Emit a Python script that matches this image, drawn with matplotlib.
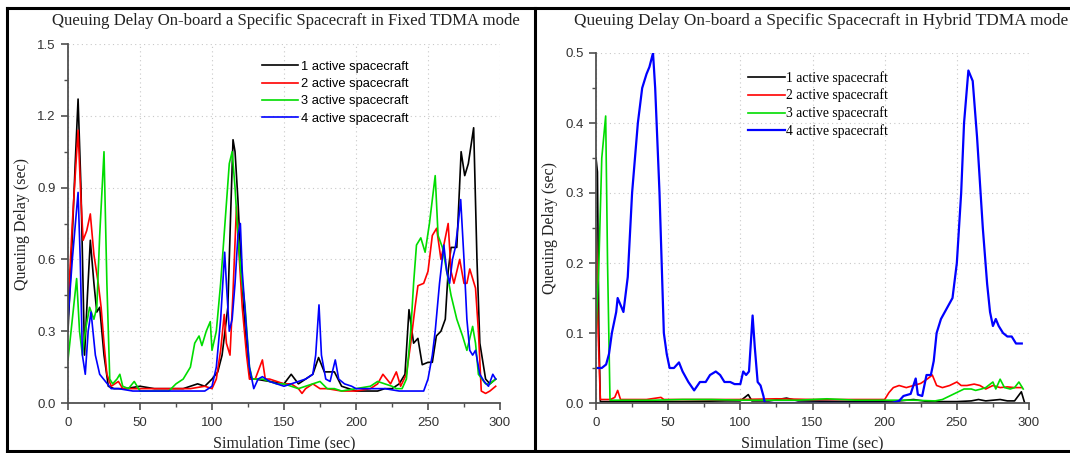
import matplotlib
matplotlib.use('Agg')
from matplotlib import pyplot as plt
from matplotlib.lines import Line2D
from matplotlib.ticker import MultipleLocator, FormatStrFormatter

# ---- Fixed TDMA mode (left) ----
fixed_t1 = [0, 3, 5, 7, 9, 11.5, 13.5, 15.5, 18, 20, 22, 25, 28, 32, 40, 50, 60, 70, 80, 90, 95, 100, 104, 107, 109,
            111, 113, 114.6, 116, 118, 120, 123, 126.6, 130, 140, 150, 155, 160, 165, 170, 174, 178, 182, 185, 190,
            200, 210, 215, 220, 225, 230, 234, 236.8, 240, 243, 246, 250, 253, 255.8, 259, 262, 264, 266, 268, 270,
            273, 275.5, 278, 281.7, 284, 286, 290, 293, 297]
fixed_v1 = [0.3, 0.7, 1.0, 1.27, 0.9, 0.2, 0.45, 0.68, 0.5, 0.38, 0.4, 0.2, 0.07, 0.06, 0.06, 0.07, 0.06, 0.06, 0.06,
            0.08, 0.07, 0.1, 0.13, 0.2, 0.3, 0.4, 0.8, 1.1, 1.05, 0.85, 0.6, 0.3, 0.1, 0.1, 0.09, 0.08, 0.12, 0.08,
            0.1, 0.12, 0.19, 0.13, 0.13, 0.13, 0.07, 0.05, 0.05, 0.05, 0.06, 0.06, 0.08, 0.12, 0.39, 0.25, 0.27,
            0.16, 0.17, 0.17, 0.28, 0.3, 0.35, 0.55, 0.65, 0.65, 0.65, 1.05, 0.95, 1.0, 1.15, 0.6, 0.25, 0.1, 0.08,
            0.1]

fixed_t2 = [0, 3, 5, 7, 9, 10.5, 13, 15.5, 18, 21, 23, 25, 27, 30, 35, 38, 45, 55, 65, 75, 85, 95, 100, 103, 106,
            108.5, 110, 112.5, 114.5, 117, 119, 121, 124, 126, 130, 135, 137, 140, 145, 150, 155, 160, 162.5, 165,
            170, 175, 180, 190, 200, 210, 215, 218.7, 224, 228, 231, 235, 238, 241, 243, 247, 250, 253, 256, 259,
            264, 266, 268, 270, 272, 275, 277, 279, 281, 283, 285, 287, 290, 293, 297]
fixed_v2 = [0.4, 0.75, 0.95, 1.14, 0.85, 0.68, 0.72, 0.79, 0.62, 0.5, 0.4, 0.25, 0.12, 0.07, 0.09, 0.06, 0.06, 0.06,
            0.06, 0.06, 0.06, 0.07, 0.06, 0.1, 0.22, 0.37, 0.25, 0.2, 0.45, 0.82, 0.6, 0.4, 0.2, 0.1, 0.1, 0.18, 0.1,
            0.1, 0.09, 0.08, 0.08, 0.06, 0.04, 0.06, 0.08, 0.06, 0.06, 0.05, 0.05, 0.06, 0.08, 0.12, 0.08, 0.13,
            0.07, 0.12, 0.25, 0.4, 0.49, 0.5, 0.55, 0.7, 0.73, 0.6, 0.75, 0.55, 0.5, 0.55, 0.6, 0.5, 0.5, 0.56, 0.52,
            0.48, 0.3, 0.05, 0.04, 0.05, 0.07]

fixed_t3 = [0, 3, 6, 8, 10, 12, 15, 18, 20, 22, 25, 27, 29, 31, 34, 36, 38, 42, 46, 50, 60, 70, 75, 80, 85, 88, 91,
            93, 96, 98.8, 100, 103, 106, 109, 112, 114, 116, 118, 120, 123, 126, 128, 135, 140, 145, 150, 155, 160,
            165, 170, 175, 180, 185, 190, 200, 210, 215, 220, 225, 228, 232, 235, 238, 240, 242, 245, 248, 251, 255,
            257, 260, 263, 266, 270, 274, 277, 281, 283, 285, 290, 293, 297]
fixed_v3 = [0.18, 0.35, 0.52, 0.3, 0.2, 0.3, 0.4, 0.35, 0.4, 0.7, 1.05, 0.5, 0.1, 0.08, 0.1, 0.12, 0.07, 0.06, 0.09,
            0.05, 0.05, 0.05, 0.08, 0.1, 0.15, 0.25, 0.28, 0.24, 0.3, 0.34, 0.22, 0.3, 0.5, 0.75, 1.0, 1.05, 0.9,
            0.7, 0.55, 0.4, 0.15, 0.1, 0.1, 0.09, 0.08, 0.08, 0.07, 0.06, 0.07, 0.08, 0.09, 0.06, 0.06, 0.05, 0.06,
            0.07, 0.09, 0.08, 0.07, 0.06, 0.06, 0.1, 0.3, 0.5, 0.66, 0.69, 0.63, 0.75, 0.95, 0.7, 0.65, 0.55, 0.45,
            0.35, 0.28, 0.22, 0.32, 0.25, 0.12, 0.08, 0.08, 0.1]

fixed_t4 = [0, 3, 7, 8.5, 10, 12, 14, 16, 19, 22, 26, 30, 35, 45, 55, 65, 75, 85, 95, 100, 103, 106, 108.8, 110,
            112, 114, 116, 118, 119.7, 121, 124, 126, 129, 132, 135, 140, 145, 150, 155, 160, 165, 170, 172, 174.3,
            176, 179, 182, 185.6, 188, 192, 197, 200, 205, 210, 220, 230, 240, 247, 250, 253, 255, 258, 261, 263,
            265, 267, 269, 271, 272.7, 275, 277, 279, 281, 283, 286, 289, 292, 295, 297]
fixed_v4 = [0.35, 0.6, 0.88, 0.6, 0.2, 0.12, 0.3, 0.38, 0.2, 0.12, 0.09, 0.06, 0.06, 0.05, 0.05, 0.05, 0.05, 0.05,
            0.05, 0.07, 0.15, 0.35, 0.63, 0.5, 0.3, 0.35, 0.5, 0.7, 0.75, 0.55, 0.3, 0.15, 0.06, 0.1, 0.11, 0.09,
            0.08, 0.07, 0.08, 0.09, 0.1, 0.12, 0.2, 0.41, 0.2, 0.1, 0.09, 0.18, 0.1, 0.08, 0.07, 0.06, 0.06, 0.06,
            0.06, 0.05, 0.05, 0.05, 0.1, 0.2, 0.3, 0.5, 0.66, 0.55, 0.5, 0.6, 0.65, 0.75, 0.85, 0.6, 0.35, 0.22,
            0.2, 0.22, 0.12, 0.09, 0.07, 0.12, 0.1]

# ---- Hybrid TDMA mode (right) ----
hybrid_t1 = [0, 1, 2, 3, 10, 30, 60, 90, 100, 105.5, 108, 120, 132, 140, 180, 210, 220, 230, 250, 260, 265, 270,
             280, 285, 290, 294.7, 297]
hybrid_v1 = [0.35, 0.33, 0.1, 0.002, 0.002, 0.002, 0.002, 0.003, 0.003, 0.012, 0.003, 0.003, 0.007, 0.003, 0.002,
             0.003, 0.005, 0.002, 0.002, 0.003, 0.005, 0.003, 0.005, 0.003, 0.003, 0.016, 0.0]

hybrid_t2 = [0, 1.5, 3, 10, 13, 15, 17, 25, 35, 45, 47, 60, 80, 100, 125, 150, 180, 200, 203, 206, 210, 215, 220,
             225, 230, 233, 236, 240, 245, 250, 253, 257, 262, 266, 270, 275, 280, 285, 290, 295]
hybrid_v2 = [0.25, 0.1, 0.005, 0.005, 0.008, 0.018, 0.005, 0.005, 0.005, 0.008, 0.005, 0.005, 0.005, 0.005, 0.006,
             0.005, 0.005, 0.005, 0.015, 0.022, 0.025, 0.022, 0.025, 0.028, 0.035, 0.04, 0.025, 0.022, 0.025, 0.03,
             0.025, 0.025, 0.027, 0.025, 0.02, 0.025, 0.022, 0.023, 0.022, 0.022]

hybrid_t3 = [0, 2, 4, 6.7, 8, 9.7, 20, 40, 60, 80, 100, 120, 140, 160, 180, 200, 220, 235, 240, 245, 250, 255, 260,
             263, 267, 270, 275, 277, 280, 283, 287, 290, 293, 296]
hybrid_v3 = [0.1, 0.2, 0.35, 0.41, 0.2, 0.004, 0.004, 0.004, 0.005, 0.005, 0.004, 0.004, 0.004, 0.006, 0.004, 0.004,
             0.004, 0.003, 0.005, 0.01, 0.015, 0.02, 0.02, 0.018, 0.02, 0.022, 0.03, 0.02, 0.034, 0.022, 0.02, 0.022,
             0.03, 0.02]

hybrid_t4 = [0, 4, 7, 9, 11, 14, 15, 17, 19, 22, 25, 29, 32, 35, 37, 39.5, 41, 44, 47, 49, 51, 54, 57.5, 60, 64, 68,
             72, 76, 79, 83, 86, 89, 93, 96, 100, 102, 104, 106, 108.5, 110, 112, 114, 116, 117, 150, 205, 210, 213,
             218, 221.5, 223, 226, 229, 232, 234, 236, 239, 243, 247, 250, 253, 255, 258, 261, 264, 268, 271, 273,
             275, 277, 279, 282, 285, 288, 291, 295]
hybrid_v4 = [0.05, 0.05, 0.055, 0.07, 0.1, 0.13, 0.15, 0.14, 0.13, 0.18, 0.3, 0.4, 0.45, 0.47, 0.48, 0.5, 0.45, 0.3,
             0.1, 0.07, 0.05, 0.05, 0.058, 0.045, 0.03, 0.018, 0.03, 0.03, 0.04, 0.045, 0.04, 0.03, 0.03, 0.027,
             0.027, 0.045, 0.04, 0.045, 0.125, 0.08, 0.03, 0.025, 0.01, 0.0, 0.0, 0.0, 0.003, 0.01, 0.013, 0.035,
             0.012, 0.01, 0.04, 0.04, 0.06, 0.1, 0.12, 0.135, 0.15, 0.2, 0.3, 0.4, 0.475, 0.46, 0.38, 0.25, 0.17,
             0.13, 0.11, 0.12, 0.11, 0.1, 0.095, 0.095, 0.085, 0.085]

labels = ['1 active spacecraft', '2 active spacecraft', '3 active spacecraft', '4 active spacecraft']
colors = ['#000000', '#ff0000', '#00dd00', '#0000ff']

W, H = 1070, 453
fig = plt.figure(figsize=(W / 100, H / 100), dpi=100)
fig.patch.set_facecolor('white')


def px(x, y):
    return x / W, 1 - y / H


def style_axes(ax, ymax, ymajor, ylabel_pad):
    ax.set_xlim(0, 300)
    ax.set_ylim(0, ymax)
    for s in ['top', 'right']:
        ax.spines[s].set_visible(False)
    for s in ['left', 'bottom']:
        ax.spines[s].set_color('#505050')
        ax.spines[s].set_linewidth(1.3)
    ax.xaxis.set_major_locator(MultipleLocator(50))
    ax.xaxis.set_minor_locator(MultipleLocator(25))
    ax.yaxis.set_major_locator(MultipleLocator(ymajor))
    ax.yaxis.set_minor_locator(MultipleLocator(ymajor / 2))
    ax.yaxis.set_major_formatter(FormatStrFormatter('%.1f'))
    ax.tick_params(which='major', direction='out', length=5, width=1.2, color='#505050',
                   labelsize=9.5, labelcolor='#333333')
    ax.tick_params(axis='x', which='major', pad=5)
    ax.tick_params(axis='y', which='major', pad=4)
    ax.tick_params(which='minor', direction='out', length=3, width=1.0, color='#505050')
    for lab in ax.get_xticklabels() + ax.get_yticklabels():
        lab.set_family('Liberation Sans')
    ax.grid(True, which='major', linestyle=(0, (1, 3)), color='#c8c8c8', linewidth=0.8)
    ax.set_axisbelow(True)
    ax.set_xlabel('Simulation Time (sec)', family='Liberation Serif', fontsize=11.5, labelpad=5,
                  color='#222222')
    ax.set_ylabel('Queuing Delay (sec)', family='Liberation Serif', fontsize=11.5, labelpad=ylabel_pad,
                  color='#222222')


# left panel
x0, y1 = px(68, 403)
x1, y0 = px(500, 44)
ax1 = fig.add_axes([x0, y1, x1 - x0, y0 - y1])
for t, v, c, lab in zip([fixed_t1, fixed_t2, fixed_t3, fixed_t4], [fixed_v1, fixed_v2, fixed_v3, fixed_v4],
                        colors, labels):
    ax1.plot(t, v, color=c, lw=1.2, label=lab)
style_axes(ax1, 1.5, 0.3, 5)
ax1.legend(loc='upper left', bbox_to_anchor=(0.449, 0.954), frameon=False, borderpad=0, borderaxespad=0,
           handlelength=2.8, handletextpad=0.2, labelspacing=0.42,
           prop={'family': 'Liberation Sans', 'size': 9.3})

# right panel
x0, y1 = px(596, 403)
x1, y0 = px(1029, 53)
ax2 = fig.add_axes([x0, y1, x1 - x0, y0 - y1])
for t, v, c, lab in zip([hybrid_t1, hybrid_t2, hybrid_t3, hybrid_t4], [hybrid_v1, hybrid_v2, hybrid_v3, hybrid_v4],
                        colors, labels):
    ax2.plot(t, v, color=c, lw=1.2 if c != '#0000ff' else 1.6, label=lab)
style_axes(ax2, 0.5, 0.1, 5)
ax2.legend(loc='upper left', bbox_to_anchor=(0.351, 0.949), frameon=False, borderpad=0, borderaxespad=0,
           handlelength=2.7, handletextpad=0.12, labelspacing=0.3,
           prop={'family': 'Liberation Serif', 'size': 9.8})

# titles
tx, ty = px(52, 21)
fig.text(tx, ty, 'Queuing Delay On-board a Specific Spacecraft in Fixed TDMA mode',
         family='Liberation Serif', fontsize=12.1, color='#222222', ha='left', va='center')
tx, ty = px(574, 21)
fig.text(tx, ty, 'Queuing Delay On-board a Specific Spacecraft in Hybrid TDMA mode',
         family='Liberation Serif', fontsize=12.4, color='#222222', ha='left', va='center')

# panel frames
frame = [((7, 8), (1070, 8)), ((7, 451), (1070, 451)), ((7, 8), (7, 451)), ((535, 8), (535, 451))]
for (xa, ya), (xb, yb) in frame:
    pa, pb = px(xa, ya), px(xb, yb)
    fig.add_artist(Line2D([pa[0], pb[0]], [pa[1], pb[1]], transform=fig.transFigure, color='black', lw=2.2))

fig.savefig('out.png', dpi=100)
